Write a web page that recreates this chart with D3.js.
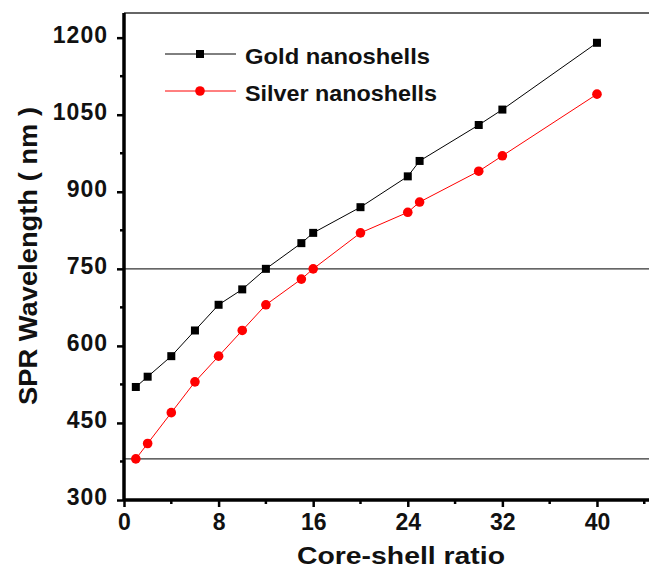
<!DOCTYPE html>
<html>
<head>
<meta charset="utf-8">
<script src="https://cdn.jsdelivr.net/npm/d3@7"></script>
<style>
    body { margin: 0; background: #fff; }
    text { font-family: Arial, "Liberation Sans", sans-serif; font-weight: bold; fill: #111; }
</style>
</head>
<body>
<script>
    // core-shell ratio values
    var ratios = [1, 2, 4, 6, 8, 10, 12, 15, 16, 20, 24, 25, 30, 32, 40];
    // SPR wavelength (nm)
    var gold = [520, 540, 580, 630, 680, 710, 750, 800, 820, 870, 930, 960, 1030, 1060, 1190];
    var silver = [380, 410, 470, 530, 580, 630, 680, 730, 750, 820, 860, 880, 940, 970, 1090];
    var seriesNames = ['Gold nanoshells', 'Silver nanoshells'];
    var refLines = [750, 380];
    var xTicks = [0, 8, 16, 24, 32, 40];
    var yTicks = [300, 450, 600, 750, 900, 1050, 1200];

    var W = 649, H = 568;
    var margin = {left: 124, top: 13, right: 0, bottom: 68};
    var width = W - margin.left - margin.right,
        height = H - margin.top - margin.bottom;

    var svg = d3.select('body').append('svg')
        .attr('width', W)
        .attr('height', H);
    var g = svg.append('g')
        .attr('transform', 'translate(' + [margin.left, margin.top] + ')');

    var x = d3.scaleLinear().domain([0, 44.4]).range([0, width]);
    var y = d3.scaleLinear().domain([300, 1248]).range([height, 0]);

    // top frame
    g.append('line')
        .attr('x1', 0).attr('x2', width)
        .attr('y1', 0).attr('y2', 0)
        .attr('stroke', '#666').attr('stroke-width', 2);

    // reference lines
    g.selectAll('line.ref')
        .data(refLines)
        .enter().append('line')
        .attr('class', 'ref')
        .attr('x1', 0).attr('x2', width)
        .attr('y1', d => y(d)).attr('y2', d => y(d))
        .attr('stroke', '#333').attr('stroke-width', 1.3);

    // minor ticks
    var xMinor = d3.range(4, 45, 8);
    var yMinor = d3.range(375, 1250, 150);
    g.selectAll('line.xminor').data(xMinor).enter().append('line')
        .attr('x1', d => x(d)).attr('x2', d => x(d))
        .attr('y1', height).attr('y2', height + 4)
        .attr('stroke', '#000').attr('stroke-width', 2.5);
    g.selectAll('line.yminor').data(yMinor).enter().append('line')
        .attr('x1', 0).attr('x2', -4)
        .attr('y1', d => y(d)).attr('y2', d => y(d))
        .attr('stroke', '#000').attr('stroke-width', 2.5);

    var xAxis = g.append('g')
        .attr('transform', 'translate(0,' + height + ')')
        .call(d3.axisBottom(x).tickValues(xTicks).tickFormat(d3.format('d'))
            .tickSize(7).tickSizeOuter(0).tickPadding(7));
    var yAxis = g.append('g')
        .call(d3.axisLeft(y).tickValues(yTicks).tickFormat(d3.format('d'))
            .tickSize(7).tickSizeOuter(0).tickPadding(9));

    [xAxis, yAxis].forEach(a => {
        a.select('.domain').attr('stroke', '#000').attr('stroke-width', 3.5);
        a.selectAll('.tick line').attr('stroke', '#000').attr('stroke-width', 2.5);
        a.selectAll('.tick text')
            .attr('fill', '#111')
            .style('font-size', '23px')
            .style('font-weight', 'bold')
            .style('font-family', 'Arial, "Liberation Sans", sans-serif');
    });
    yAxis.selectAll('.tick text').attr('dy', '0.2em').style('letter-spacing', '1px');
    xAxis.select('.domain').attr('d', 'M0,0H' + width);
    yAxis.select('.domain').attr('d', 'M0,' + height + 'V0');

    var line = d3.line()
        .x(d => x(d[0]))
        .y(d => y(d[1]));

    var goldPts = ratios.map((r, i) => [r, gold[i]]);
    var silverPts = ratios.map((r, i) => [r, silver[i]]);

    g.append('path').datum(goldPts)
        .attr('d', line).attr('fill', 'none')
        .attr('stroke', '#000').attr('stroke-width', 1);
    g.append('path').datum(silverPts)
        .attr('d', line).attr('fill', 'none')
        .attr('stroke', '#ff0000').attr('stroke-width', 1);

    g.selectAll('rect.gold').data(goldPts).enter().append('rect')
        .attr('x', d => x(d[0]) - 4).attr('y', d => y(d[1]) - 4)
        .attr('width', 8).attr('height', 8)
        .attr('fill', '#000');
    g.selectAll('circle.silver').data(silverPts).enter().append('circle')
        .attr('cx', d => x(d[0])).attr('cy', d => y(d[1]))
        .attr('r', 4.8)
        .attr('fill', '#ff0000');

    // legend
    var legend = svg.append('g');
    var legY = [54, 91];
    var legText = [185, 192];
    var legColors = ['#000', '#ff0000'];
    legY.forEach((ly, i) => {
        legend.append('line')
            .attr('x1', 165).attr('x2', 236)
            .attr('y1', ly).attr('y2', ly)
            .attr('stroke', legColors[i]).attr('stroke-width', 1);
        if (i === 0) {
            legend.append('rect')
                .attr('x', 196).attr('y', ly - 4)
                .attr('width', 8).attr('height', 8)
                .attr('fill', '#000');
        } else {
            legend.append('circle')
                .attr('cx', 200).attr('cy', ly).attr('r', 4.8)
                .attr('fill', '#ff0000');
        }
        legend.append('text')
            .attr('x', 245).attr('y', ly + 2)
            .attr('dy', '0.35em')
            .attr('textLength', legText[i])
            .attr('lengthAdjust', 'spacingAndGlyphs')
            .style('font-size', '22px')
            .text(seriesNames[i]);
    });

    // axis titles
    svg.append('text')
        .attr('x', 297).attr('y', 564)
        .attr('textLength', 208)
        .attr('lengthAdjust', 'spacingAndGlyphs')
        .style('font-size', '24px')
        .text('Core-shell ratio');
    svg.append('text')
        .attr('transform', 'translate(37,405) rotate(-90)')
        .attr('textLength', 298)
        .attr('lengthAdjust', 'spacingAndGlyphs')
        .style('font-size', '25px')
        .text('SPR Wavelength ( nm )');
</script>
</body>
</html>
